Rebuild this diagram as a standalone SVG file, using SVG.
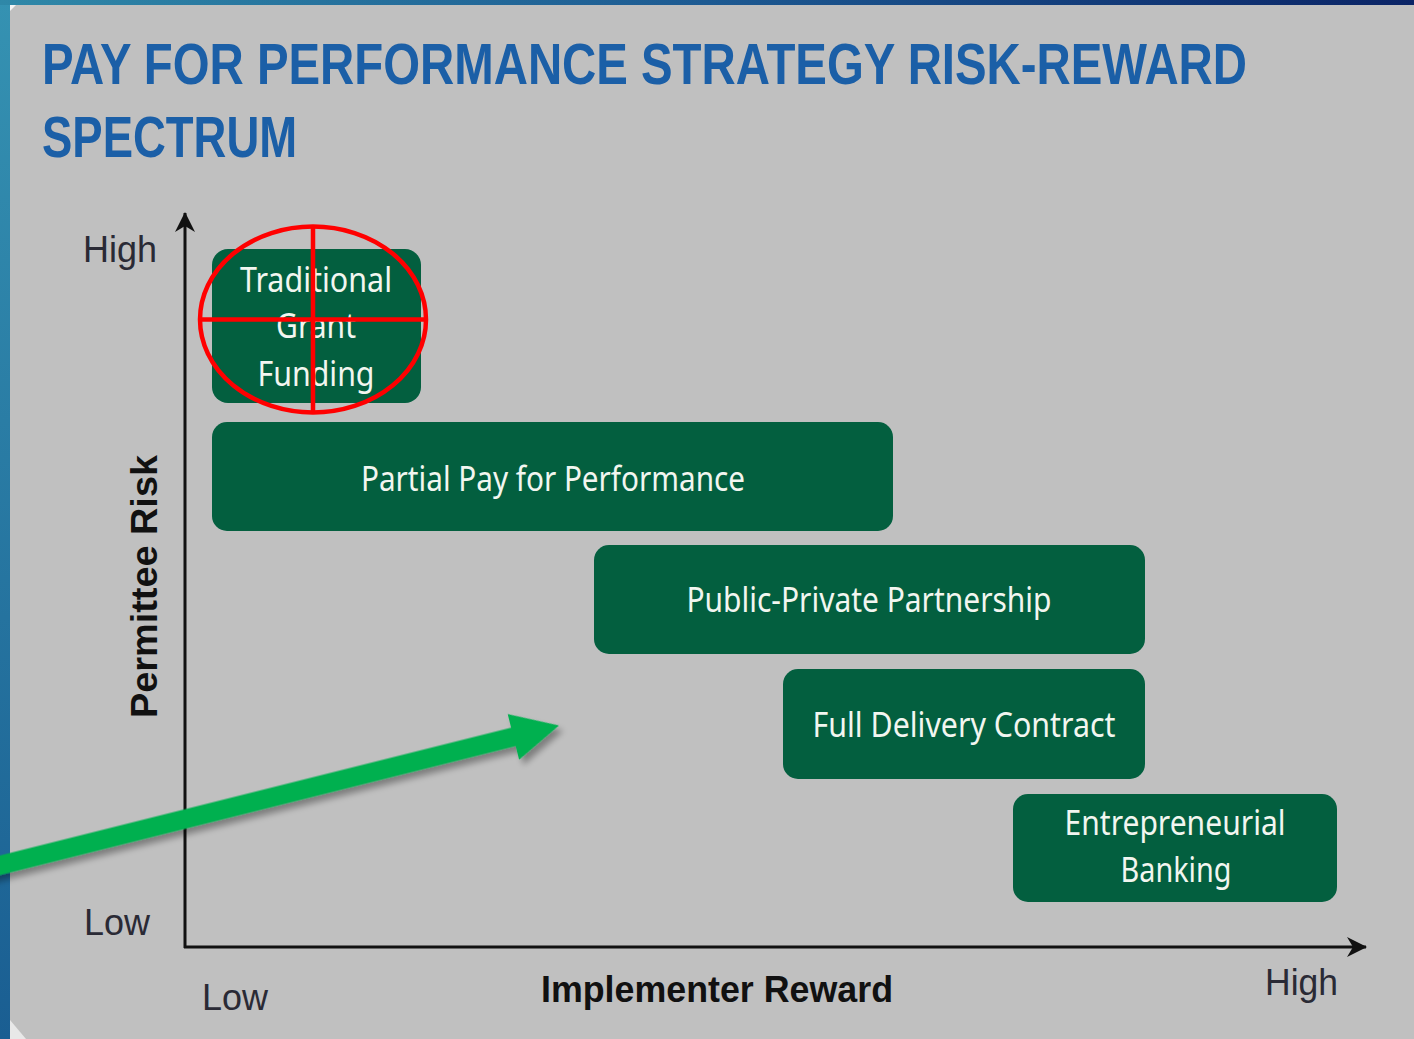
<svg xmlns="http://www.w3.org/2000/svg" width="1414" height="1039" viewBox="0 0 1414 1039">
  <defs>
    <linearGradient id="topBar" x1="0" y1="0" x2="1" y2="0">
      <stop offset="0" stop-color="#2f88a8"/>
      <stop offset="0.5" stop-color="#1d5a92"/>
      <stop offset="1" stop-color="#0b2466"/>
    </linearGradient>
    <linearGradient id="sideBar" x1="0" y1="0" x2="0" y2="1">
      <stop offset="0" stop-color="#3592b2"/>
      <stop offset="1" stop-color="#1a5e92"/>
    </linearGradient>
    <filter id="shadow" x="-10%" y="-30%" width="120%" height="180%">
      <feGaussianBlur in="SourceAlpha" stdDeviation="3"/>
      <feOffset dx="3" dy="6" result="b"/>
      <feComponentTransfer in="b" result="s">
        <feFuncA type="linear" slope="0.35"/>
      </feComponentTransfer>
      <feMerge>
        <feMergeNode in="s"/>
        <feMergeNode in="SourceGraphic"/>
      </feMerge>
    </filter>
    <marker id="axisHead" viewBox="0 0 22 22" refX="20" refY="11" markerWidth="22" markerHeight="22" markerUnits="userSpaceOnUse" orient="auto">
      <path d="M1,1 L21,11 L1,21 L7,11 Z" fill="#111"/>
    </marker>
    <style>
      .box { fill: #035f3f; }
      .boxText { font-family: "Noto Sans", "Open Sans", sans-serif; font-size: 34px; fill: #f2f6f0; text-anchor: middle; }
      .axisWord { font-family: "Liberation Sans", "DejaVu Sans", sans-serif; font-size: 37px; fill: #2a2a35; }
      .axisTitle { font-family: "Liberation Sans", "DejaVu Sans", sans-serif; font-size: 36px; font-weight: bold; fill: #111; }
      .title { font-family: "Liberation Sans", "DejaVu Sans", sans-serif; font-size: 57px; font-weight: bold; fill: #1b5fa7; }
      .axis { stroke: #111; stroke-width: 3; fill: none; }
    </style>
  </defs>

  <!-- backdrop and slide panel -->
  <rect x="0" y="0" width="1414" height="1039" fill="url(#sideBar)"/>
  <rect x="0" y="0" width="1414" height="5" fill="url(#topBar)"/>
  <rect x="10" y="5" width="1404" height="1034" fill="#c0c0c0"/>
  <polygon points="10,5 16,5 10,11" fill="#f4f4f4"/>
  <polygon points="10,1020 10,1039 26,1039" fill="#e8e8e8"/>

  <!-- title, horizontally condensed -->
  <text class="title" transform="translate(42 84) scale(0.831 1)" x="0" y="0">PAY FOR PERFORMANCE STRATEGY RISK-REWARD</text>
  <text class="title" transform="translate(42 157) scale(0.798 1)" x="0" y="0">SPECTRUM</text>

  <!-- axes -->
  <g id="axes">
    <line class="axis" x1="185" y1="948" x2="185" y2="213" marker-end="url(#axisHead)"/>
    <line class="axis" x1="184" y1="947" x2="1366" y2="947" marker-end="url(#axisHead)"/>
    <text class="axisWord" x="83" y="262" textLength="74" lengthAdjust="spacingAndGlyphs">High</text>
    <text class="axisWord" x="84" y="935" textLength="66" lengthAdjust="spacingAndGlyphs">Low</text>
    <text class="axisWord" x="202" y="1010" textLength="66" lengthAdjust="spacingAndGlyphs">Low</text>
    <text class="axisWord" x="1265" y="995" textLength="73" lengthAdjust="spacingAndGlyphs">High</text>
    <text class="axisTitle" transform="translate(157 718) rotate(-90)" x="0" y="0" textLength="263" lengthAdjust="spacingAndGlyphs">Permittee Risk</text>
    <text class="axisTitle" x="541" y="1002" textLength="352" lengthAdjust="spacingAndGlyphs">Implementer Reward</text>
  </g>

  <!-- strategy nodes -->
  <g id="node-traditional">
    <rect class="box" x="212" y="249" width="209" height="154" rx="16"/>
    <text class="boxText" x="316" y="292" textLength="152" lengthAdjust="spacingAndGlyphs">Traditional</text>
    <text class="boxText" x="316" y="338" textLength="80" lengthAdjust="spacingAndGlyphs">Grant</text>
    <text class="boxText" x="316" y="386" textLength="117" lengthAdjust="spacingAndGlyphs">Funding</text>
  </g>
  <g id="node-partial">
    <rect class="box" x="212" y="422" width="681" height="109" rx="15"/>
    <text class="boxText" x="553" y="491" textLength="384" lengthAdjust="spacingAndGlyphs">Partial Pay for Performance</text>
  </g>
  <g id="node-ppp">
    <rect class="box" x="594" y="545" width="551" height="109" rx="15"/>
    <text class="boxText" x="869" y="612" textLength="365" lengthAdjust="spacingAndGlyphs">Public-Private Partnership</text>
  </g>
  <g id="node-full">
    <rect class="box" x="783" y="669" width="362" height="110" rx="15"/>
    <text class="boxText" x="964" y="737" textLength="303" lengthAdjust="spacingAndGlyphs">Full Delivery Contract</text>
  </g>
  <g id="node-entrepreneurial">
    <rect class="box" x="1013" y="794" width="324" height="108" rx="15"/>
    <text class="boxText" x="1175" y="835" textLength="221" lengthAdjust="spacingAndGlyphs">Entrepreneurial</text>
    <text class="boxText" x="1176" y="882" textLength="111" lengthAdjust="spacingAndGlyphs">Banking</text>
  </g>

  <!-- crosshair target over the first node -->
  <g id="target" stroke="#ff0000" stroke-width="4.5" fill="none">
    <ellipse cx="313" cy="319.5" rx="113" ry="93"/>
    <line x1="313" y1="226" x2="313" y2="413"/>
    <line x1="199" y1="319.5" x2="427" y2="319.5"/>
  </g>

  <!-- connectors -->
  <g id="connectors">
    <g transform="translate(559 725.5) rotate(-14.04)" filter="url(#shadow)">
      <polygon points="-620,-9.5 -47,-9.5 -47,-23.5 0,0 -47,23.5 -47,9.5 -620,9.5" fill="#00b050"/>
    </g>
  </g>
</svg>
